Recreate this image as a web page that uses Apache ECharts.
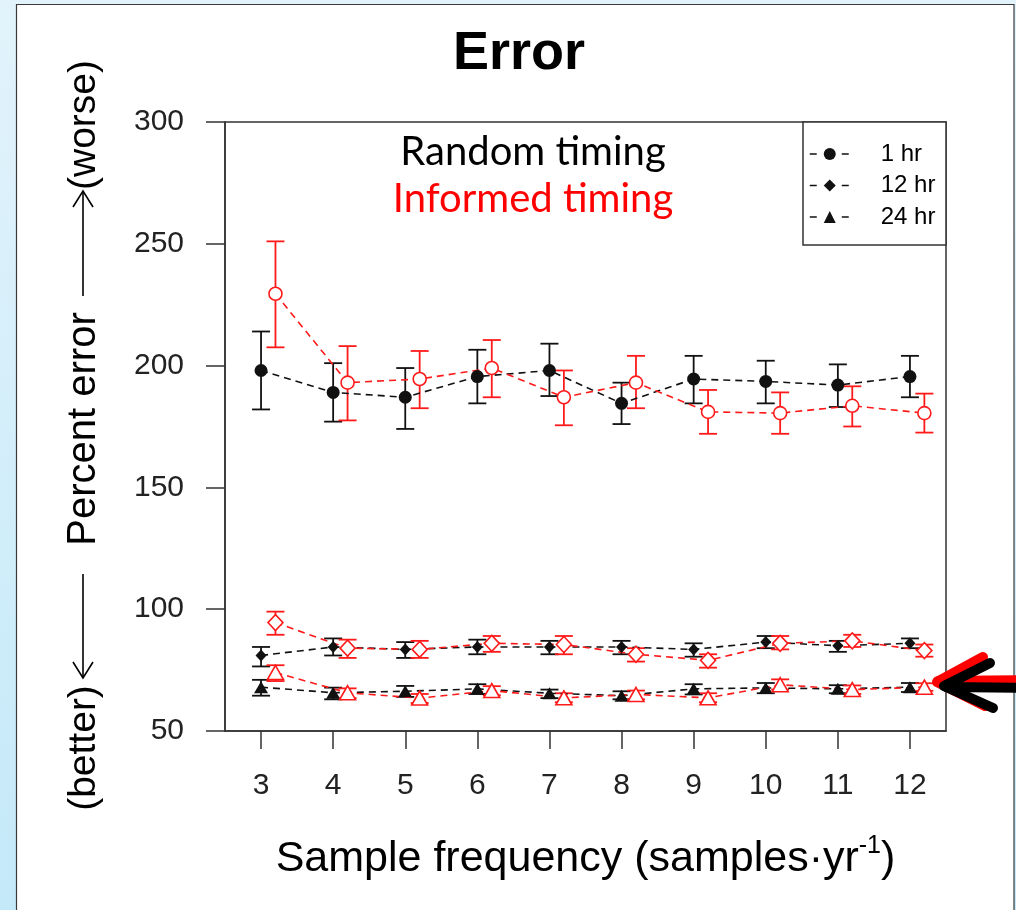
<!DOCTYPE html>
<html>
<head>
<meta charset="utf-8">
<script src="https://cdn.jsdelivr.net/npm/echarts@6/dist/echarts.min.js"></script>
<style>
  html, body { margin: 0; padding: 0; background: #e3f3fa; }
  #chart { width: 1016px; height: 910px; }
</style>
</head>
<body>
<div id="chart"></div>
<script>
// ---- data ----
const frequencies = [3, 4, 5, 6, 7, 8, 9, 10, 11, 12];
const xTickValues = [3, 4, 5, 6, 7, 8, 9, 10, 11, 12];
const yTickValues = [50, 100, 150, 200, 250, 300];
const durationNames = ['1 hr', '12 hr', '24 hr'];

// Random timing (black, filled symbols)
const random1hMean = [198, 189, 187, 195.5, 198, 184.5, 194.5, 193.5, 192, 195.5];
const random1hLo   = [182, 177, 174, 184.5, 187.5, 176, 184.5, 184.5, 183, 187];
const random1hHi   = [214, 201, 199, 206.5, 209, 193, 204, 202, 200.5, 204];

const random12hMean = [81, 84.5, 83.5, 84.5, 84.5, 84.5, 83.5, 86.5, 85, 86];
const random12hLo   = [76.5, 81, 80, 81.5, 81.5, 81.5, 80.5, 84, 82.5, 84];
const random12hHi   = [84.5, 88, 86.5, 87.5, 87, 87, 86, 89, 87, 88];

const random24hMean = [68, 65.7, 66.3, 67.3, 65.5, 64.5, 67.3, 67.7, 67.3, 68];
const random24hLo   = [64.5, 63, 64, 65.2, 63.5, 63, 65, 65.5, 65.5, 66];
const random24hHi   = [71, 67.8, 68.5, 69.2, 67, 66.3, 69.2, 69.7, 68.8, 69.7];

// Informed timing (red, open symbols)
const informed1hMean = [229.5, 193, 194.5, 199, 187, 193, 181, 180.5, 183.5, 180.5];
const informed1hLo   = [207.5, 177.5, 182.5, 187, 175.5, 182.5, 172, 172, 175, 172.5];
const informed1hHi   = [251, 208, 206, 210.5, 198, 204, 190, 189, 191.5, 188.5];

const informed12hMean = [94.5, 84, 83.5, 86, 85.5, 81.5, 79, 86, 87, 83];
const informed12hLo   = [89.5, 80, 80, 82.5, 81.5, 78.5, 76, 83.5, 84.5, 80.5];
const informed12hHi   = [99, 87.5, 87, 89, 89, 84, 81.5, 89, 89.5, 85.5];

const informed24hMean = [74, 65.7, 63.5, 66.6, 63.6, 65, 63.6, 69, 67, 68];
const informed24hLo   = [70.5, 63.5, 61.5, 64.7, 61.8, 63, 61.8, 67, 65.2, 66.5];
const informed24hHi   = [77, 67.5, 65.2, 68.4, 65.5, 66.6, 65.5, 71.2, 68.7, 69.6];

// ---- styling / layout ----
const informedOffset = 0.2;
const BLACK = '#111';
const RED = '#ff1a1a';
const dash = [7, 5];

function pts(xs, ys, off) { return xs.map((x, i) => [x + off, ys[i]]); }
function bars(xs, lo, hi, off) { return xs.map((x, i) => [x + off, lo[i], hi[i]]); }

function errRender(color) {
  return function (params, api) {
    const x = api.value(0), lo = api.value(1), hi = api.value(2);
    const a = api.coord([x, lo]), b = api.coord([x, hi]);
    const hw = 9;
    const style = { stroke: color, lineWidth: 1.8 };
    return {
      type: 'group',
      children: [
        { type: 'line', shape: { x1: a[0], y1: a[1], x2: b[0], y2: b[1] }, style: style },
        { type: 'line', shape: { x1: a[0] - hw, y1: a[1], x2: a[0] + hw, y2: a[1] }, style: style },
        { type: 'line', shape: { x1: b[0] - hw, y1: b[1], x2: b[0] + hw, y2: b[1] }, style: style }
      ]
    };
  };
}

function errSeries(name, data, color) {
  return { name: name, type: 'custom', renderItem: errRender(color), data: data,
           encode: { x: 0, y: [1, 2] }, silent: true, clip: false };
}

function lineSeries(name, data, symbol, size, filled) {
  return {
    name: name, type: 'line', data: data, symbol: symbol, symbolSize: size,
    showSymbol: true,
    lineStyle: { color: filled ? BLACK : RED, width: 1.6, type: dash },
    itemStyle: filled ? { color: BLACK } : { color: '#fff', borderColor: RED, borderWidth: 1.6 },
    emphasis: { disabled: true }
  };
}

const series = [
  errSeries('r1e', bars(frequencies, random1hLo, random1hHi, 0), BLACK),
  errSeries('r12e', bars(frequencies, random12hLo, random12hHi, 0), BLACK),
  errSeries('r24e', bars(frequencies, random24hLo, random24hHi, 0), BLACK),
  lineSeries(durationNames[0], pts(frequencies, random1hMean, 0), 'circle', 13, true),
  lineSeries(durationNames[1], pts(frequencies, random12hMean, 0), 'diamond', [11, 12], true),
  lineSeries(durationNames[2], pts(frequencies, random24hMean, 0), 'triangle', [14, 12], true),
  errSeries('i1e', bars(frequencies, informed1hLo, informed1hHi, informedOffset), RED),
  errSeries('i12e', bars(frequencies, informed12hLo, informed12hHi, informedOffset), RED),
  errSeries('i24e', bars(frequencies, informed24hLo, informed24hHi, informedOffset), RED),
  lineSeries('informed 1 hr', pts(frequencies, informed1hMean, informedOffset), 'circle', 13, false),
  lineSeries('informed 12 hr', pts(frequencies, informed12hMean, informedOffset), 'diamond', [15, 16], false),
  lineSeries('informed 24 hr', pts(frequencies, informed24hMean, informedOffset), 'triangle', [16, 14], false)
];

const AX = '#333';
const chart = echarts.init(document.getElementById('chart'), null, { renderer: 'canvas' });
chart.setOption({
  animation: false,
  backgroundColor: '#e3f3fa',
  grid: { left: 225, right: 70, top: 122, bottom: 179, show: true,
          borderColor: AX, borderWidth: 1.5, backgroundColor: 'transparent' },
  xAxis: {
    type: 'value', min: 2.5, max: 12.5,
    axisLine: { show: true, onZero: false, lineStyle: { color: AX, width: 1.5 } },
    axisTick: { show: true, length: 18, customValues: xTickValues, lineStyle: { color: AX, width: 1.5 } },
    axisLabel: { customValues: xTickValues, fontFamily: 'Liberation Sans', fontSize: 30, color: '#222', margin: 40 },
    splitLine: { show: false },
    name: '{a|Sample frequency (samples·yr}{s|-1}{a|)}',
    nameLocation: 'middle', nameGap: 103,
    nameTextStyle: {
      rich: {
        a: { fontFamily: 'Liberation Sans', fontSize: 43, lineHeight: 50, color: '#000' },
        s: { fontFamily: 'Liberation Sans', fontSize: 25, lineHeight: 36, verticalAlign: 'top', color: '#000' }
      }
    }
  },
  yAxis: {
    type: 'value', min: 50, max: 300, interval: 50,
    axisLine: { show: true, lineStyle: { color: AX, width: 1.5 } },
    axisTick: { show: true, length: 19, customValues: yTickValues, lineStyle: { color: AX, width: 1.5 } },
    axisLabel: { customValues: yTickValues, fontFamily: 'Liberation Sans', fontSize: 30, color: '#222', margin: 41 },
    splitLine: { show: false }
  },
  legend: {
    data: durationNames,
    orient: 'vertical', left: 809, top: 142, padding: 0,
    itemWidth: 40, itemHeight: 15, itemGap: 7.5,
    selectedMode: false,
    lineStyle: { type: [7, 25], width: 1.5 },
    textStyle: { fontFamily: 'Liberation Sans', fontSize: 24, color: '#000', padding: [0, 0, 0, 26] }
  },
  graphic: [
    // left decorative strip and white panel
    { type: 'rect', z: -10, shape: { x: 0, y: 0, width: 1016, height: 910 },
      style: { fill: new echarts.graphic.LinearGradient(0, 0, 0, 1, [
        { offset: 0, color: '#e2f3fb' }, { offset: 1, color: '#c4e9f9' }]) } },
    { type: 'rect', z: -9, shape: { x: 16.5, y: 4.5, width: 997.5, height: 920 },
      style: { fill: '#ffffff', stroke: '#3a3a3a', lineWidth: 1.2 } },
    // title
    { type: 'text', z: 5, x: 519, y: 54,
      style: { text: 'Error', fontFamily: 'Liberation Sans', fontWeight: 'bold', fontSize: 54,
               fill: '#000', align: 'center', verticalAlign: 'middle' } },
    { type: 'text', z: 5, x: 533, y: 152,
      style: { text: 'Random timing', fontFamily: 'Lato', fontSize: 40, fill: '#000',
               align: 'center', verticalAlign: 'middle' } },
    { type: 'text', z: 5, x: 533, y: 199,
      style: { text: 'Informed timing', fontFamily: 'Lato', fontSize: 40, fill: '#ff0000',
               align: 'center', verticalAlign: 'middle' } },
    // legend box
    { type: 'rect', z: 3, shape: { x: 803, y: 122, width: 143, height: 123 },
      style: { fill: '#ffffff', stroke: AX, lineWidth: 1.5 } },
    // y axis title pieces
    { type: 'text', z: 5, x: 84, y: 125, rotation: Math.PI / 2,
      style: { text: '(worse)', fontFamily: 'Liberation Sans', fontSize: 39, fill: '#000',
               align: 'center', verticalAlign: 'middle' } },
    { type: 'text', z: 5, x: 84, y: 429, rotation: Math.PI / 2,
      style: { text: 'Percent error', fontFamily: 'Liberation Sans', fontSize: 40, fill: '#000',
               align: 'center', verticalAlign: 'middle' } },
    { type: 'text', z: 5, x: 84, y: 748, rotation: Math.PI / 2,
      style: { text: '(better)', fontFamily: 'Liberation Sans', fontSize: 39, fill: '#000',
               align: 'center', verticalAlign: 'middle' } },
    { type: 'polyline', z: 5, shape: { points: [[83, 296], [83, 191]] }, style: { stroke: '#000', lineWidth: 1.6, fill: null } },
    { type: 'polyline', z: 5, shape: { points: [[73, 207], [83, 191], [93, 207]] }, style: { stroke: '#000', lineWidth: 1.6, fill: null } },
    { type: 'polyline', z: 5, shape: { points: [[83, 574], [83, 678]] }, style: { stroke: '#000', lineWidth: 1.6, fill: null } },
    { type: 'polyline', z: 5, shape: { points: [[73, 662], [83, 678], [93, 662]] }, style: { stroke: '#000', lineWidth: 1.6, fill: null } },
    // highlight arrow at right (red shadow + black)
    { type: 'polyline', z: 20, shape: { points: [[983, 657], [937, 682], [985, 706]] },
      style: { stroke: '#ff0000', lineWidth: 10, lineCap: 'round', lineJoin: 'round', fill: null } },
    { type: 'polyline', z: 20, shape: { points: [[938, 681], [1030, 680]] },
      style: { stroke: '#ff0000', lineWidth: 10, lineCap: 'round', fill: null } },
    { type: 'polyline', z: 21, shape: { points: [[990, 663], [944, 686], [993, 708]] },
      style: { stroke: '#000', lineWidth: 10, lineCap: 'round', lineJoin: 'round', fill: null } },
    { type: 'polyline', z: 21, shape: { points: [[946, 687], [1030, 688]] },
      style: { stroke: '#000', lineWidth: 10, lineCap: 'round', fill: null } }
  ],
  series: series
});
</script>
</body>
</html>
